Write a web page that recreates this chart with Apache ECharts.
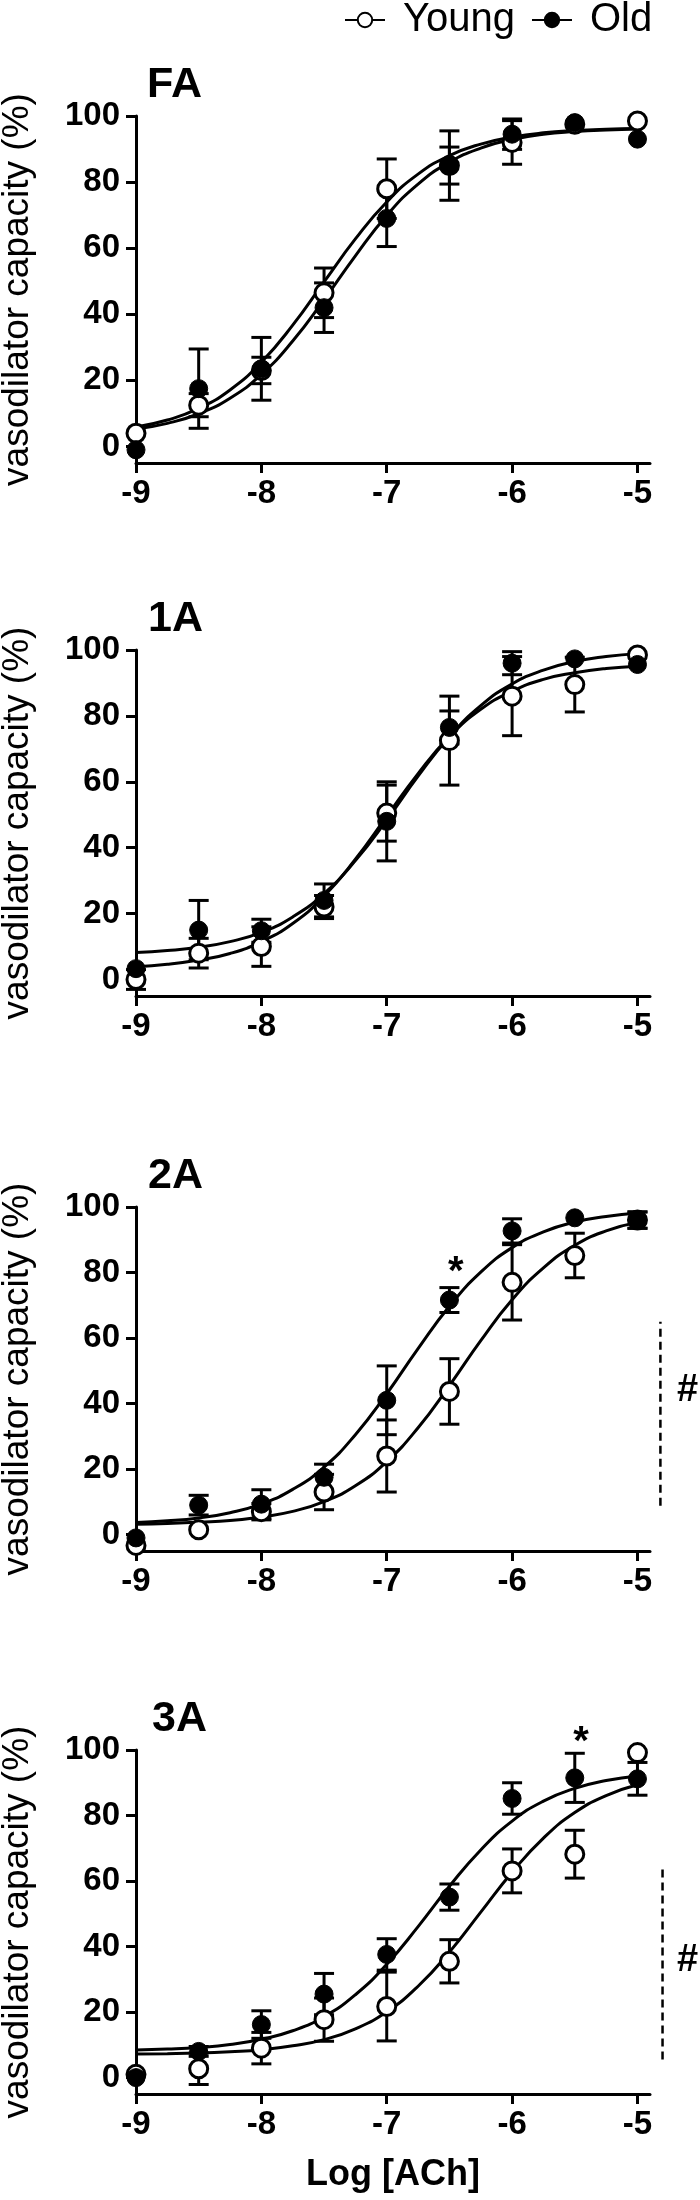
<!DOCTYPE html>
<html><head><meta charset="utf-8">
<script src="https://cdn.jsdelivr.net/npm/echarts@6/dist/echarts.min.js"></script>
<style>html,body{margin:0;padding:0;background:#fff}#c{width:700px;height:2200px}</style>
</head><body><div id="c"></div>
<script>
// ---------- data ----------
const panelNames = ['FA', '1A', '2A', '3A'];
const logDose = [-9, -8.5, -8, -7.5, -7, -6.5, -6, -5.5, -5];
const xTicks = [-9, -8, -7, -6, -5];
const yTicks = [0, 20, 40, 60, 80, 100];

const youngFA = [4, 12.5, 23, 46.5, 78, 85, 92, 97.5, 98.5];
const youngFAErr = [0, 3.5, 4, 7.5, 9, 5.6, 6.6, 0, 0];
const oldFA = [-1, 17.5, 23.5, 42, 69, 85, 94.5, 98, 93];
const oldFAErr = [0, 12, 9.5, 7.5, 8.5, 10.5, 4.6, 0, 0];

const young1A = [0, 8, 10, 22, 50.5, 72.5, 86, 89.5, 98.5];
const young1AErr = [3, 4.5, 6, 3.5, 8.5, 13.5, 12, 8.3, 0];
const old1A = [3.3, 15, 14.8, 24, 48, 76.5, 96, 97.3, 95.6];
const old1AErr = [0, 9, 3.5, 5, 12, 5, 3.5, 0, 0];

const young2A = [-3.3, 1.5, 7, 13, 24, 43.7, 77, 85.2, 96];
const young2AErr = [0, 0, 2.5, 5.4, 11, 10, 11.5, 6.8, 2.5];
const old2A = [-1, 9, 9.3, 17.5, 41, 71.6, 92.7, 96.7, 96];
const old2AErr = [0, 3, 4.4, 4, 10.5, 3.8, 3.7, 0, 2.5];

const young3A = [1, 2.7, 9, 17.7, 21.7, 35.5, 63.1, 68.2, 99.2];
const young3AErr = [0, 4.8, 4.8, 6.6, 10.5, 6.6, 6.7, 7.3, 0];
const old3A = [0, 8, 16.2, 25.5, 37.6, 55.1, 85.2, 91.5, 91.2];
const old3AErr = [0, 1.5, 4.2, 6.3, 4.8, 4, 4.8, 7.5, 5];

// fitted curves, read at every 0.25 log unit
const curveX = [-9, -8.75, -8.5, -8.25, -8, -7.75, -7.5, -7.25, -7, -6.75, -6.5, -6.25, -6, -5.75, -5.5, -5.25, -5];
const fitYoungFA = [5.9, 8.0, 11.5, 17.1, 25.5, 36.7, 49.8, 62.8, 74.0, 82.4, 88.0, 91.5, 93.6, 94.9, 95.6, 96.0, 96.2];
const fitOldFA = [5.3, 7.0, 9.9, 14.6, 21.8, 31.9, 44.4, 57.7, 69.9, 79.4, 86.0, 90.3, 92.9, 94.5, 95.3, 95.8, 96.1];
const fitYoung1A = [3.9, 4.6, 5.9, 7.9, 11.5, 17.0, 25.3, 36.5, 49.5, 62.5, 73.7, 82.0, 87.5, 91.1, 93.1, 94.4, 95.1];
const fitOld1A = [8.2, 8.8, 9.8, 11.5, 14.3, 19.0, 26.1, 36.1, 48.4, 61.7, 73.7, 83.1, 89.7, 93.9, 96.5, 98.0, 98.9];
const fitYoung2A = [3.2, 3.4, 3.8, 4.3, 5.4, 7.1, 10.1, 14.9, 22.3, 32.6, 45.5, 59.2, 71.7, 81.4, 88.3, 92.7, 95.3];
const fitOld2A = [3.7, 4.2, 5.1, 6.7, 9.4, 13.8, 20.6, 30.5, 43.0, 56.8, 69.7, 80.1, 87.6, 92.4, 95.4, 97.1, 98.2];
const fitYoung3A = [7.2, 7.3, 7.5, 7.9, 8.5, 9.7, 11.6, 14.9, 20.1, 27.9, 38.3, 50.5, 62.7, 73.1, 80.9, 86.1, 89.4];
const fitOld3A = [8.4, 8.7, 9.2, 10.1, 11.7, 14.3, 18.6, 25.3, 34.6, 46.1, 58.4, 69.5, 78.3, 84.4, 88.3, 90.7, 92.1];

// significance marks: [x, y]
const starMarks = [null, null, [-6.45, 80], [-5.45, 102]];
const hashMarks = [null, null, [-4.60, 44], [-4.60, 35.6]];
const hashBars = [null, null, [-4.817, 8.8, 65], [-4.80, 5.5, 64.7]]; // x, yLow, yHigh

// ---------- assembly ----------
const young = [youngFA, young1A, young2A, young3A];
const youngErr = [youngFAErr, young1AErr, young2AErr, young3AErr];
const old = [oldFA, old1A, old2A, old3A];
const oldErr = [oldFAErr, old1AErr, old2AErr, old3AErr];
const fitYoung = [fitYoungFA, fitYoung1A, fitYoung2A, fitYoung3A];
const fitOld = [fitOldFA, fitOld1A, fitOld2A, fitOld3A];

const FONT = '"Liberation Sans", Arial, Helvetica, sans-serif';
const gridTop = [116, 650, 1207, 1750];
const gridHeight = [347, 346, 344, 344];
const titleLeft = [147, 148, 148, 152];

function errRender(params, api) {
  const x = api.value(0), y = api.value(1), e = api.value(2);
  if (!e) return null;
  const p1 = api.coord([x, y + e]), p2 = api.coord([x, y - e]);
  const hw = 10, st = { stroke: '#000', lineWidth: 3 };
  return { type: 'group', children: [
    { type: 'line', shape: { x1: p1[0], y1: p1[1], x2: p2[0], y2: p2[1] }, style: st },
    { type: 'line', shape: { x1: p1[0] - hw, y1: p1[1], x2: p1[0] + hw, y2: p1[1] }, style: st },
    { type: 'line', shape: { x1: p2[0] - hw, y1: p2[1], x2: p2[0] + hw, y2: p2[1] }, style: st }
  ]};
}
function textRender(txt, font) {
  return function (params, api) {
    const p = api.coord([api.value(0), api.value(1)]);
    return { type: 'text', x: p[0], y: p[1], style: { text: txt, font: font, fill: '#000', align: 'center', verticalAlign: 'middle' } };
  };
}
function barRender(params, api) {
  const x = api.value(0);
  const a = api.coord([x, api.value(1)]), b = api.coord([x, api.value(2)]);
  return { type: 'line', shape: { x1: a[0], y1: a[1], x2: b[0], y2: b[1] }, style: { stroke: '#000', lineWidth: 2.5, lineDash: [8, 5] } };
}

const grids = [], xAxes = [], yAxes = [], titles = [], series = [];
const axisLine = { show: true, onZero: false, lineStyle: { color: '#000', width: 3 } };
for (let i = 0; i < 4; i++) {
  grids.push({ left: 136, right: 50, top: gridTop[i], height: gridHeight[i], containLabel: false, outerBoundsMode: 'none' });
  const xa = {
    gridIndex: i, type: 'value', min: -9, max: -4.9,
    axisLine: axisLine,
    axisTick: { show: true, length: 10, lineStyle: { color: '#000', width: 3 }, customValues: xTicks },
    axisLabel: { customValues: xTicks, margin: 14, fontSize: 33, fontWeight: 'bold', color: '#000', fontFamily: FONT },
    splitLine: { show: false }
  };
  if (i === 3) {
    xa.name = 'Log [ACh]';
    xa.nameLocation = 'middle';
    xa.nameGap = 63;
    xa.nameTextStyle = { fontSize: 36, fontWeight: 'bold', color: '#000', fontFamily: FONT };
  }
  xAxes.push(xa);
  yAxes.push({
    gridIndex: i, type: 'value', min: -5, max: 100,
    name: 'vasodilator capacity (%)', nameLocation: 'middle', nameGap: 100,
    nameTextStyle: { fontSize: 37, color: '#000', fontFamily: FONT },
    axisLine: axisLine,
    axisTick: { show: true, length: 10, lineStyle: { color: '#000', width: 3 }, customValues: yTicks },
    axisLabel: { customValues: yTicks, margin: 16, fontSize: 33, fontWeight: 'bold', color: '#000', fontFamily: FONT },
    splitLine: { show: false }
  });
  titles.push({ text: panelNames[i], left: titleLeft[i], top: gridTop[i] - 52, padding: 0,
    textStyle: { fontSize: 43, fontWeight: 'bold', color: '#000', fontFamily: FONT } });

  const common = { xAxisIndex: i, yAxisIndex: i, silent: true, animation: false };
  series.push(Object.assign({ type: 'line', name: 'Young', smooth: true, symbol: 'circle', symbolSize: 18, showSymbol: false,
    data: curveX.map((x, j) => [x, fitYoung[i][j]]),
    lineStyle: { color: '#000', width: 3 }, itemStyle: { color: '#fff', borderColor: '#000', borderWidth: 3 }, z: 2 }, common));
  series.push(Object.assign({ type: 'line', name: 'Old', smooth: true, symbol: 'circle', symbolSize: 18, showSymbol: false,
    data: curveX.map((x, j) => [x, fitOld[i][j]]),
    lineStyle: { color: '#000', width: 3 }, itemStyle: { color: '#000', borderColor: '#000', borderWidth: 1 }, z: 2 }, common));
  series.push(Object.assign({ type: 'custom', name: 'Young', renderItem: errRender, clip: false,
    data: logDose.map((x, j) => [x, young[i][j], youngErr[i][j]]), z: 3 }, common));
  series.push(Object.assign({ type: 'custom', name: 'Old', renderItem: errRender, clip: false,
    data: logDose.map((x, j) => [x, old[i][j], oldErr[i][j]]), z: 3 }, common));
  series.push(Object.assign({ type: 'scatter', name: 'Young', symbol: 'circle', symbolSize: 18, clip: false,
    data: logDose.map((x, j) => [x, young[i][j]]),
    itemStyle: { color: '#fff', borderColor: '#000', borderWidth: 3, opacity: 1 }, z: 4 }, common));
  series.push(Object.assign({ type: 'scatter', name: 'Old', symbol: 'circle', symbolSize: 18, clip: false,
    data: logDose.map((x, j) => [x, old[i][j]]),
    itemStyle: { color: '#000', borderColor: '#000', borderWidth: 1, opacity: 1 }, z: 5 }, common));
  if (starMarks[i]) {
    series.push(Object.assign({ type: 'custom', renderItem: textRender('*', 'bold 40px ' + FONT), clip: false, data: [starMarks[i]], z: 6 }, common));
  }
  if (hashMarks[i]) {
    series.push(Object.assign({ type: 'custom', renderItem: textRender('#', 'bold 38px ' + FONT), clip: false, data: [hashMarks[i]], z: 6 }, common));
    series.push(Object.assign({ type: 'custom', renderItem: barRender, clip: false, data: [hashBars[i]], z: 6 }, common));
  }
}

const chart = echarts.init(document.getElementById('c'), null, { renderer: 'canvas' });
chart.setOption({
  backgroundColor: '#fff',
  animation: false,
  title: titles,
  legend: {
    data: ['Young', 'Old'], left: 344, top: 0, padding: 0,
    itemWidth: 40, itemHeight: 18, itemGap: 16,
    textStyle: { fontSize: 40, color: '#000', fontFamily: FONT, padding: [0, 0, 0, 13] },
    selectedMode: false
  },
  grid: grids,
  xAxis: xAxes,
  yAxis: yAxes,
  series: series
});
</script>
</body></html>
